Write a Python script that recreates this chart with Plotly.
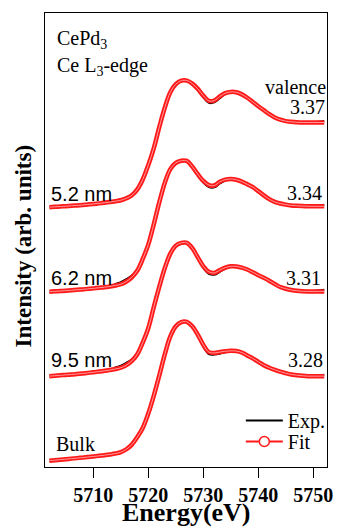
import plotly.graph_objects as go

# ---------------- data ----------------
energy = [5702, 5703, 5704, 5705, 5706, 5707, 5708, 5709, 5710, 5711,
          5712, 5713, 5714, 5715, 5716, 5717, 5718, 5719, 5720, 5721,
          5722, 5723, 5724, 5725, 5726, 5727, 5728, 5729, 5730, 5731,
          5732, 5733, 5734, 5735, 5736, 5737, 5738, 5739, 5740, 5741,
          5742, 5743, 5744, 5745, 5746, 5747, 5748, 5749, 5750, 5751, 5752]

samples = ["5.2 nm", "6.2 nm", "9.5 nm", "Bulk"]
valences = ["3.37", "3.34", "3.31", "3.28"]
offsets = [3, 2, 1, 0]

# normalised fit spectra
fit_52 = [0.000, 0.004, 0.008, 0.012, 0.016, 0.021, 0.026, 0.032, 0.038, 0.045,
          0.052, 0.060, 0.070, 0.082, 0.105, 0.140, 0.210, 0.330, 0.500, 0.700,
          0.950, 1.180, 1.360, 1.455, 1.497, 1.498, 1.462, 1.400, 1.320, 1.258,
          1.262, 1.310, 1.350, 1.364, 1.360, 1.335, 1.295, 1.245, 1.195, 1.148,
          1.100, 1.062, 1.035, 1.018, 1.010, 1.005, 1.002, 1.002, 1.002, 1.002, 1.002]
fit_62 = [0.000, 0.004, 0.008, 0.012, 0.017, 0.022, 0.027, 0.033, 0.039, 0.046,
          0.053, 0.062, 0.073, 0.088, 0.120, 0.170, 0.250, 0.390, 0.560, 0.800,
          1.060, 1.290, 1.450, 1.525, 1.550, 1.548, 1.480, 1.390, 1.310, 1.262,
          1.256, 1.300, 1.326, 1.334, 1.325, 1.303, 1.270, 1.238, 1.190, 1.140,
          1.095, 1.062, 1.043, 1.030, 1.021, 1.016, 1.013, 1.011, 1.010, 1.010, 1.010]
fit_95 = [0.000, 0.005, 0.010, 0.015, 0.020, 0.026, 0.032, 0.039, 0.046, 0.054,
          0.063, 0.073, 0.085, 0.100, 0.130, 0.180, 0.260, 0.400, 0.570, 0.820,
          1.060, 1.280, 1.450, 1.545, 1.578, 1.578, 1.515, 1.405, 1.300, 1.235,
          1.222, 1.255, 1.285, 1.300, 1.298, 1.285, 1.262, 1.230, 1.195, 1.165,
          1.130, 1.090, 1.055, 1.035, 1.020, 1.010, 1.005, 1.003, 1.003, 1.003, 1.003]
fit_bulk = [0.000, 0.006, 0.012, 0.018, 0.024, 0.030, 0.036, 0.043, 0.050, 0.057,
            0.065, 0.074, 0.084, 0.100, 0.135, 0.190, 0.280, 0.390, 0.560, 0.770,
            1.010, 1.260, 1.470, 1.590, 1.640, 1.642, 1.590, 1.490, 1.370, 1.285,
            1.275, 1.285, 1.295, 1.300, 1.297, 1.280, 1.245, 1.210, 1.170, 1.130,
            1.100, 1.075, 1.053, 1.035, 1.020, 1.012, 1.005, 1.000, 1.000, 1.000, 1.000]

# normalised experimental spectra
exp_52 = [0.000, 0.004, 0.008, 0.012, 0.016, 0.021, 0.026, 0.032, 0.038, 0.045,
          0.052, 0.060, 0.075, 0.092, 0.115, 0.148, 0.215, 0.332, 0.500, 0.700,
          0.950, 1.180, 1.360, 1.455, 1.497, 1.498, 1.460, 1.394, 1.300, 1.235,
          1.240, 1.290, 1.340, 1.362, 1.360, 1.335, 1.295, 1.245, 1.195, 1.148,
          1.100, 1.062, 1.035, 1.018, 1.010, 1.005, 1.003, 1.004, 1.006, 1.012, 1.020]
exp_62 = [0.000, 0.004, 0.008, 0.012, 0.017, 0.022, 0.027, 0.033, 0.039, 0.046,
          0.053, 0.062, 0.090, 0.113, 0.148, 0.190, 0.260, 0.392, 0.560, 0.800,
          1.060, 1.290, 1.450, 1.525, 1.550, 1.548, 1.478, 1.384, 1.290, 1.238,
          1.234, 1.280, 1.316, 1.332, 1.325, 1.303, 1.270, 1.238, 1.190, 1.140,
          1.095, 1.062, 1.043, 1.030, 1.021, 1.016, 1.014, 1.014, 1.016, 1.022, 1.030]
exp_95 = [0.000, 0.005, 0.010, 0.015, 0.020, 0.026, 0.032, 0.039, 0.046, 0.054,
          0.063, 0.073, 0.102, 0.125, 0.158, 0.200, 0.270, 0.402, 0.570, 0.820,
          1.060, 1.280, 1.450, 1.545, 1.578, 1.578, 1.513, 1.399, 1.280, 1.212,
          1.201, 1.235, 1.274, 1.298, 1.298, 1.285, 1.262, 1.230, 1.195, 1.165,
          1.130, 1.090, 1.055, 1.035, 1.020, 1.010, 1.006, 1.005, 1.008, 1.014, 1.022]
exp_bulk = [0.000, 0.006, 0.012, 0.018, 0.024, 0.030, 0.036, 0.043, 0.050, 0.057,
            0.065, 0.074, 0.086, 0.103, 0.138, 0.192, 0.280, 0.390, 0.560, 0.770,
            1.010, 1.260, 1.470, 1.590, 1.640, 1.642, 1.588, 1.484, 1.350, 1.262,
            1.255, 1.265, 1.284, 1.298, 1.297, 1.280, 1.245, 1.210, 1.170, 1.130,
            1.100, 1.075, 1.053, 1.035, 1.020, 1.012, 1.006, 1.003, 1.005, 1.010, 1.018]

fits = [fit_52, fit_62, fit_95, fit_bulk]
exps = [exp_52, exp_62, exp_95, exp_bulk]

tick_vals = [5710, 5720, 5730, 5740, 5750]

# ---------------- layout geometry ----------------
W, H = 341, 528
L, R, T, B = 45, 333, 13, 467

def px(x):
    return (x - L) / (R - L)

def py(y):
    return (B - y) / (B - T)

SERIF = "Liberation Serif"
SANS = "Liberation Sans"
RED = "#ff1a1a"

fig = go.Figure()

for f, e, off in zip(fits, exps, offsets):
    fig.add_trace(go.Scatter(
        x=energy, y=[v + off for v in e], mode="lines",
        line=dict(color="black", width=2, shape="spline"),
        showlegend=False, hoverinfo="skip"))
    fig.add_trace(go.Scatter(
        x=energy, y=[v + off for v in f], mode="lines",
        line=dict(color=RED, width=4.5, shape="spline"),
        showlegend=False, hoverinfo="skip"))
    # light core of the open-circle band
    fig.add_trace(go.Scatter(
        x=energy, y=[v + off for v in f], mode="lines",
        line=dict(color="#ff9a9a", width=1, shape="spline"),
        showlegend=False, hoverinfo="skip"))

# legend entries (two legends to match the tight spacing)
fig.add_trace(go.Scatter(x=[None], y=[None], mode="lines", name="Exp.",
                         line=dict(color="black", width=2), legend="legend"))
fig.add_trace(go.Scatter(x=[None], y=[None], mode="lines+markers", name="Fit",
                         line=dict(color=RED, width=2),
                         marker=dict(symbol="circle", size=10, color="white",
                                     line=dict(color=RED, width=1.5)),
                         legend="legend2"))

ann = []
def add_text(text, x, y, xanchor, family, size, bold=False):
    ann.append(dict(text=text, xref="paper", yref="paper", x=px(x), y=py(y),
                    xanchor=xanchor, yanchor="middle", showarrow=False,
                    font=dict(family=family, size=size, color="black",
                              weight="bold" if bold else "normal")))

add_text("CePd<sub>3</sub>", 55, 39, "left", SERIF, 20)
add_text("Ce L<sub>3</sub>-edge", 55, 66, "left", SERIF, 20)
add_text("valence", 334, 87, "right", SERIF, 20)

val_x = [333, 330, 329, 331]
val_y = [107, 193, 278, 360]
for v, xx, yy in zip(valences, val_x, val_y):
    add_text(v, xx, yy, "right", SERIF, 20)

lab_y = [194, 278, 360]
for s, yy in zip(samples[:3], lab_y):
    add_text(s, 49, yy, "left", SANS, 20)
add_text(samples[3], 54, 444, "left", SERIF, 20)

# axis titles
add_text("Energy(eV)", 189, 512, "center", SERIF, 26, bold=True)
ann.append(dict(text="Intensity (arb. units)", xref="paper", yref="paper",
                x=px(23), y=py(246), xanchor="center", yanchor="middle",
                textangle=-90, showarrow=False,
                font=dict(family=SERIF, size=23, color="black", weight="bold")))

leg_common = dict(xanchor="left", yanchor="top", bgcolor="rgba(0,0,0,0)",
                  borderwidth=0, font=dict(family=SERIF, size=20, color="black"),
                  itemsizing="trace", itemwidth=37)

fig.update_layout(
    width=W, height=H,
    margin=dict(l=L, r=W - R, t=T, b=H - B, pad=0),
    paper_bgcolor="white", plot_bgcolor="white",
    annotations=ann,
    showlegend=True,
    legend=dict(x=px(245), y=py(401), **leg_common),
    legend2=dict(x=px(245), y=py(422), **leg_common),
    xaxis=dict(range=[5701.2, 5752.5], tickvals=tick_vals,
               ticks="outside", ticklen=10, tickwidth=1, tickcolor="black",
               showline=True, linecolor="black", linewidth=1, mirror=True,
               showgrid=False, zeroline=False,
               tickfont=dict(family=SERIF, size=20, color="black", weight="bold")),
    yaxis=dict(range=[-0.075, 5.298], showticklabels=False, ticks="",
               showline=True, linecolor="black", linewidth=1, mirror=True,
               showgrid=False, zeroline=False),
)

fig.write_html("out.html")
